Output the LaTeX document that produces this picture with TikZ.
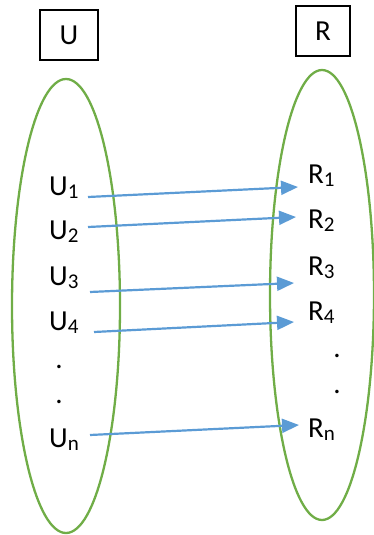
\documentclass[tikz,border=0pt]{standalone}
\usepackage{fontspec}
\setmainfont{Carlito}
\usetikzlibrary{arrows.meta, shapes.geometric}
\definecolor{setgreen}{HTML}{70AD47}
\definecolor{mapblue}{HTML}{5B9BD5}
\newcommand{\subidx}[1]{\raisebox{-3pt}{\fontsize{21}{24}\selectfont #1}}

\begin{document}
\begin{tikzpicture}[x=1pt, y=-1pt, font=\fontsize{29}{35}\selectfont,
    lbl/.style={inner sep=0pt, anchor=base west},
    dotlbl/.style={inner sep=0pt, anchor=base},
    hd/.style={draw, line width=1.3pt, minimum height=50pt},
    setshape/.style={draw=setgreen, line width=2.3pt, ellipse, inner sep=0pt},
    link/.style={mapblue, line width=2.2pt, -{Triangle[length=17pt, width=14pt]}}]
    \useasboundingbox (0,0) rectangle (374,535);
    % the two sets
    \node[setshape, minimum width=108pt, minimum height=454pt] (uset) at (66,306) {};
    \node[setshape, minimum width=104pt, minimum height=450pt] (rset) at (322,295) {};
    \node[hd, minimum width=58pt] (uhd) at (69,35) {U};
    \node[hd, minimum width=54pt] (rhd) at (323,31) {R};
    % elements of U
    \node[lbl] (u1) at (49,195) {U\subidx{1}};
    \node[lbl] (u2) at (49,239) {U\subidx{2}};
    \node[lbl] (u3) at (49,285) {U\subidx{3}};
    \node[lbl] (u4) at (49,330) {U\subidx{4}};
    \node[dotlbl] (ud1) at (59,368) {.};
    \node[dotlbl] (ud2) at (59,403) {.};
    \node[lbl] (un) at (49,447) {U\subidx{n}};
    % elements of R
    \node[lbl] (r1) at (308,183) {R\subidx{1}};
    \node[lbl] (r2) at (308,228) {R\subidx{2}};
    \node[lbl] (r3) at (308,275) {R\subidx{3}};
    \node[lbl] (r4) at (308,320) {R\subidx{4}};
    \node[dotlbl] (rd1) at (337,357) {.};
    \node[dotlbl] (rd2) at (337,393) {.};
    \node[lbl] (rn) at (308,437) {R\subidx{n}};
    \foreach \s/\a/\b/\c/\d in {1/39/-2/-10/-4, 2/39/12/-12/11, 3/41/-7/-14/-8,
                                4/45/-2/-14/-2, n/41/12/-9/12}
      \draw[link] ([xshift=\a pt, yshift=\b pt]u\s.base west)
        -- ([xshift=\c pt, yshift=\d pt]r\s.base west);
\end{tikzpicture}
\end{document}
